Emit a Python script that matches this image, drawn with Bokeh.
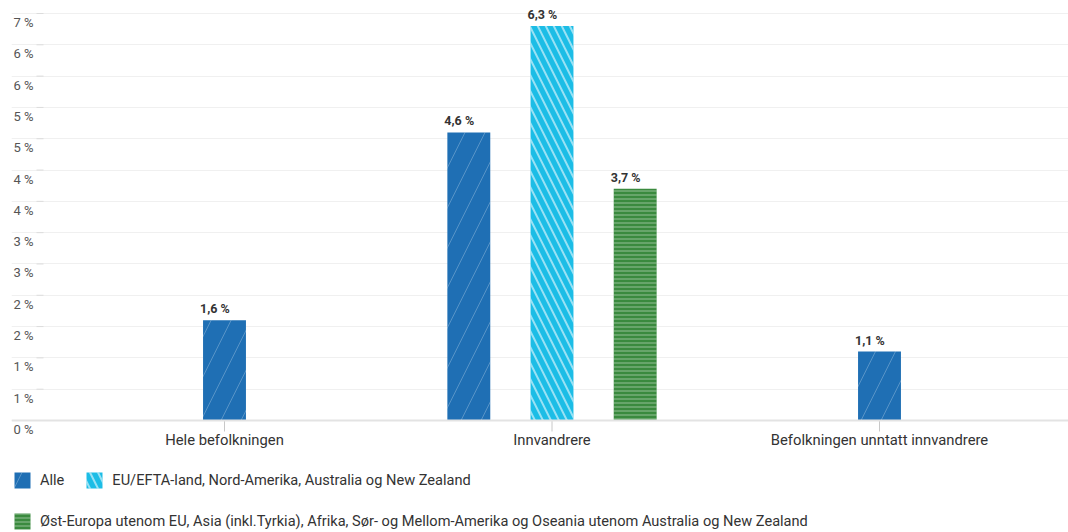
from bokeh.plotting import figure
from bokeh.models import (Range1d, FixedTicker, Grid, Legend, LegendItem,
                          ColumnDataSource, Span)
from bokeh.core.properties import value
from bokeh.embed import file_html
from bokeh.resources import INLINE

# ---- data ----
categories = ["Hele befolkningen", "Innvandrere", "Befolkningen unntatt innvandrere"]
series_names = [
    "Alle",
    "EU/EFTA-land, Nord-Amerika, Australia og New Zealand",
    "Øst-Europa utenom EU, Asia (inkl.Tyrkia), Afrika, Sør- og Mellom-Amerika og Oseania utenom Australia og New Zealand",
]
alle = [1.6, 4.6, 1.1]
eu_efta = [None, 6.3, None]
ost_europa = [None, 3.7, None]
y_ticks = [0, 0.5, 1, 1.5, 2, 2.5, 3, 3.5, 4, 4.5, 5, 5.5, 6, 6.5]
y_tick_labels = ["0 %", "1 %", "1 %", "2 %", "2 %", "3 %", "3 %", "4 %",
                 "4 %", "5 %", "5 %", "6 %", "6 %", "7 %"]

# ---- styles ----
colors = ["#1f6fb4", "#1cbde6", "#3a8a3e"]
hatches = [
    dict(hatch_pattern="/", hatch_color="white", hatch_alpha=0.25, hatch_scale=40, hatch_weight=1),
    dict(hatch_pattern="\\", hatch_color="white", hatch_alpha=0.55, hatch_scale=16, hatch_weight=2),
    dict(hatch_pattern="-", hatch_color="white", hatch_alpha=0.3, hatch_scale=4, hatch_weight=1.5),
]
FONT = value("Roboto")
step = 0.254
bar_w = 0.131

series = [alle, eu_efta, ost_europa]

W, H = 1068, 532
LEFT = 11
# pixel layout of the plotting area (y=0 at 420px, y=6.5 at 13px)
PPX = 327.5                      # pixels per category
PPU = (420 - 13) / 6.5           # pixels per percent
X0, X1 = (LEFT - 224) / PPX, (W - 224) / PPX
Y0, Y1 = -(H - 420) / PPU, 6.5 + 13 / PPU

p = figure(width=W, height=H,
           x_range=Range1d(X0, X1), y_range=Range1d(Y0, Y1),
           x_axis_type=None, y_axis_type=None,
           output_backend="svg", toolbar_location=None,
           min_border_left=LEFT, min_border_right=0,
           min_border_top=0, min_border_bottom=0)
p.outline_line_color = None
p.background_fill_color = "white"

# y grid
p.add_layout(Grid(dimension=1, ticker=FixedTicker(ticks=y_ticks),
                  grid_line_color="#f0f0f0", grid_line_width=1))
# small y tick marks (25px..32px right of plot's left edge)
p.segment(x0=[X0 + 25 / PPX] * len(y_ticks), y0=y_ticks,
          x1=[X0 + 32 / PPX] * len(y_ticks), y1=y_ticks,
          line_color="#dcdcdc", line_width=1)

# category axis: baseline, ticks, labels
p.add_layout(Span(location=0, dimension="width", line_color="#e3e3e3", line_width=2))
cat_x = list(range(len(categories)))
p.segment(x0=cat_x, y0=[0] * len(cat_x), x1=cat_x, y1=[-11 / PPU] * len(cat_x),
          line_color="#c8c8c8", line_width=1)
p.text(x=cat_x, y=[0] * len(cat_x), text=categories, y_offset=19,
       text_align="center", text_baseline="middle", text_font=FONT,
       text_font_size="14.8px", text_color="#333333")

# positions: bars centered in each category (null series skipped)
xs = [[None] * len(categories) for _ in series]
for ci in range(len(categories)):
    present = [si for si, s in enumerate(series) if s[ci] is not None]
    n = len(present)
    for k, si in enumerate(present):
        xs[si][ci] = ci + (k - (n - 1) / 2) * step

renderers = []
lab_x, lab_y, lab_t = [], [], []
for si, s in enumerate(series):
    px = [xs[si][ci] for ci in range(len(categories)) if s[ci] is not None]
    py = [s[ci] for ci in range(len(categories)) if s[ci] is not None]
    src = ColumnDataSource(dict(x=px, top=py))
    r = p.vbar(x="x", top="top", bottom=0, width=bar_w, source=src,
               fill_color=colors[si], line_color=None, **hatches[si])
    renderers.append(r)
    lab_x += [x - bar_w / 2 for x in px]
    lab_y += py
    lab_t += [f"{v:.1f}".replace(".", ",") + " %" for v in py]

# bar value labels (start just left of each bar's left edge)
p.text(x=lab_x, y=lab_y, text=lab_t, text_align="left", text_baseline="bottom",
       x_offset=-3, y_offset=-4, text_font=FONT, text_font_size="12.5px",
       text_font_style="bold", text_color="#333333")

# y tick labels (sit just below each grid line)
p.text(x=[X0] * len(y_ticks), y=y_ticks, text=y_tick_labels, x_offset=33 - LEFT, y_offset=9,
       text_align="right", text_baseline="middle", text_font=FONT,
       text_font_size="13px", text_color="#555555")

# legends
def make_legend(items, loc):
    return Legend(items=items, location=loc, orientation="horizontal",
                  glyph_width=20, glyph_height=20, label_height=20, label_standoff=8,
                  spacing=20, padding=0, margin=0,
                  label_text_font="Roboto", label_text_font_size="14.6px",
                  label_text_color="#333333",
                  border_line_color=None, background_fill_alpha=0)

leg1 = make_legend([LegendItem(label=series_names[0], renderers=[renderers[0]]),
                    LegendItem(label=series_names[1], renderers=[renderers[1]])], (1, 42))
leg2 = make_legend([LegendItem(label=series_names[2], renderers=[renderers[2]])], (1, 1))
p.add_layout(leg1)
p.add_layout(leg2)

open("out.html", "w").write(file_html(p, INLINE))
